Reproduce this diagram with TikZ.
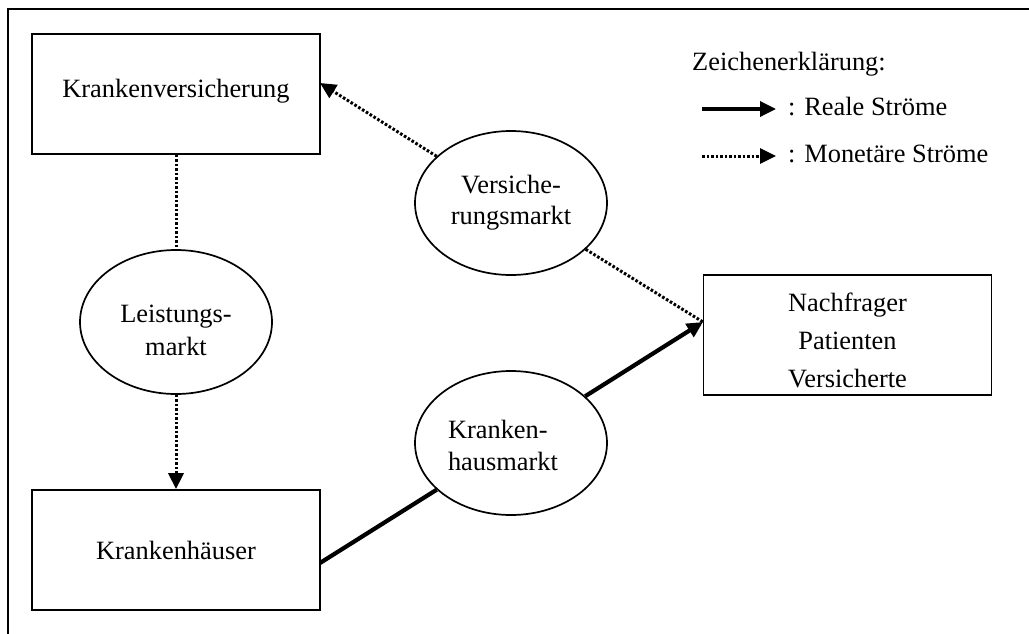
\documentclass[tikz,border=0pt]{standalone}
\usepackage{fontspec}
\setmainfont{Liberation Serif}
\usetikzlibrary{arrows.meta,shapes.geometric}
\begin{document}
\begin{tikzpicture}[x=1pt,y=-1pt,
  txt/.style={font=\fontsize{26.4}{31}\selectfont},
  boxnode/.style={txt,draw,line width=1.7pt,minimum width=288pt,minimum height=120pt,inner sep=0pt,align=center},
  marktnode/.style={txt,draw,ellipse,line width=1.7pt,minimum width=192pt,minimum height=144pt,inner sep=0pt,align=center},
  money/.style={line width=3pt,dash pattern=on 2.6pt off 1.9pt},
  real/.style={line width=4.2pt},
  tip/.style={-{Triangle[length=16pt,width=15pt]}}]
\useasboundingbox (0,0) rectangle (1029,633);
% frame
\coordinate (fa) at (8,645);
\coordinate (fb) at (8,9);
\coordinate (fc) at (1040,9);
\draw[line width=2.7pt] (fa) -- (fb) -- (fc);
% boxes
\node[boxnode,text height=18pt,text depth=12pt] (kv) at (176,94) {Krankenversicherung};
\node[boxnode] (kh) at (176,550) {Krankenhäuser};
\node[boxnode] (nf) at (847.5,335) {};
\node[txt,align=center,font=\fontsize{26.4}{38}\selectfont,inner sep=0pt] (nft) at (847.5,340) {Nachfrager\\Patienten\\Versicherte};
% markets
\node[marktnode] (lm) at (176,322) {};
\node[txt,align=center,inner sep=0pt,font=\fontsize{26.4}{33}\selectfont] (lmt) at (176,330) {Leistungs-\\markt};
\node[marktnode] (vm) at (511,203) {Versiche-\\rungsmarkt};
\node[marktnode] (hm) at (511,443) {};
\node[txt,align=left,inner sep=0pt,font=\fontsize{26.4}{32}\selectfont] (hmt) at (503,445) {Kranken-\\hausmarkt};
% connector ends
\coordinate (kvin) at (320,83);
\coordinate (nfin) at (703,322);
\coordinate (khout) at (320,563);
% connectors
\draw[money] (kv.south) -- (lm.north);
\draw[money,tip] (lm.south) -- (kh.north);
\draw[money,tip] (vm) -- (kvin);
\draw[money] (vm) -- (nfin);
\draw[real] (khout) -- (hm);
\draw[real,tip] (hm) -- (nfin);
% legend
\node[txt,anchor=base west,inner sep=0pt] (leg) at (692,70) {Zeichenerklärung:};
\coordinate (l1a) at (702,109);
\coordinate (l1b) at (776,109);
\draw[line width=3.4pt,tip] (l1a) -- (l1b);
\node[txt,anchor=base west,inner sep=0pt] (l1t) at (788,115) {: Reale Ströme};
\coordinate (l2a) at (702,156);
\coordinate (l2b) at (776,156);
\draw[money,tip] (l2a) -- (l2b);
\node[txt,anchor=base west,inner sep=0pt] (l2t) at (788,162) {: Monetäre Ströme};
\end{tikzpicture}
\end{document}
